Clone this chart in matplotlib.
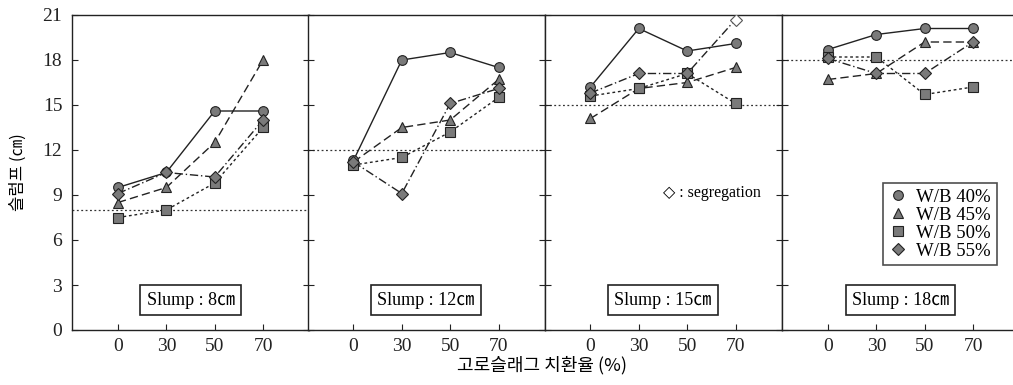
import numpy as np
import matplotlib.pyplot as plt

plt.rcParams['font.family'] = ['Liberation Serif', 'DejaVu Sans', 'Noto Sans CJK KR']

# 데이터 (슬래그 치환율별 슬럼프, 패널 = 목표 슬럼프)
slag = ['0', '30', '50', '70']
targets = [8, 12, 15, 18]
panel_labels = ['Slump : 8㎝', 'Slump : 12㎝', 'Slump : 15㎝', 'Slump : 18㎝']

wb40 = [[9.5, 10.5, 14.6, 14.6], [11.3, 18.0, 18.5, 17.5],
        [16.2, 20.1, 18.6, 19.1], [18.7, 19.7, 20.1, 20.1]]
wb45 = [[8.5, 9.5, 12.5, 18.0], [11.2, 13.5, 14.0, 16.7],
        [14.1, 16.1, 16.5, 17.5], [16.7, 17.1, 19.2, 19.2]]
wb50 = [[7.5, 8.0, 9.8, 13.5], [11.0, 11.5, 13.2, 15.5],
        [15.6, 16.1, 17.1, 15.1], [18.2, 18.2, 15.7, 16.2]]
wb55 = [[9.1, 10.5, 10.2, 14.0], [11.2, 9.1, 15.1, 16.1],
        [15.8, 17.1, 17.1, 20.7], [18.1, 17.1, 17.1, 19.2]]
# 재료분리 발생 (패널 3, W/B 55%, 70%)
segregated = [(2, 3)]

series = [('W/B 40%', wb40, 'o', '-'),
          ('W/B 45%', wb45, '^', (0, (6, 3))),
          ('W/B 50%', wb50, 's', (0, (2, 2))),
          ('W/B 55%', wb55, 'D', (0, (6, 2, 1, 2)))]

fig = plt.figure(figsize=(10.13, 3.85), dpi=100)
W, H = 1013, 385
lefts = [72, 307.5, 544.5, 782]
pw = 237
x = np.arange(len(slag))

for i in range(4):
    ax = fig.add_axes([lefts[i] / W, 1 - 330 / H, pw / W, 315 / H])
    ax.axhline(targets[i], color='#333333', lw=0.9, ls=(0, (1.5, 2)), zorder=1)
    for name, data, mk, ls in series:
        y = np.array(data[i], dtype=float)
        ax.plot(x, y, color='#222222', lw=1.0, ls=ls, zorder=2)
        for j in range(len(x)):
            seg = (i, j) in segregated and mk == 'D'
            ax.plot(x[j], y[j], marker=mk, ls='none',
                    ms=7 if mk != 'D' else 6,
                    mfc='white' if seg else '#7a7a7a',
                    mec='#555555' if seg else '#222222', mew=0.8, zorder=3)
    ax.set_xlim(-0.95, 3.95)
    ax.set_ylim(0, 21)
    ax.set_yticks(range(0, 22, 3))
    ax.set_xticks(x)
    ax.set_xticklabels(slag, fontsize=13.5)
    ax.tick_params(direction='in', length=4, width=0.8, left=True, right=True, top=False,
                   labelsize=14, colors='#222222')
    ax.tick_params(axis='y', pad=7)
    ax.tick_params(axis='x', pad=6)
    if i > 0:
        ax.tick_params(labelleft=False)
    for s in ax.spines.values():
        s.set_linewidth(1.0)
        s.set_color('#222222')
    ax.text(0.5, 0.095, panel_labels[i], transform=ax.transAxes, ha='center', va='center',
            fontsize=13,
            bbox=dict(boxstyle='square,pad=0.35', fc='white', ec='#222222', lw=1.2))
    if i == 2:
        ax.text(0.5, 9.1, '◇ : segregation', transform=ax.get_yaxis_transform(),
                ha='left', va='center', fontsize=11.5)
    if i == 3:
        handles = [plt.Line2D([], [], marker=mk, ls='none', ms=7 if mk != 'D' else 6,
                              mfc='#7a7a7a', mec='#222222', mew=0.8)
                   for _, _, mk, _ in series]
        leg = ax.legend(handles, [s[0] for s in series], loc='upper left',
                        bbox_to_anchor=(0.425, 0.467), fontsize=13.5, frameon=True,
                        fancybox=False, handlelength=1.0, handletextpad=0.5,
                        labelspacing=0.05, borderpad=0.3, borderaxespad=0)
        leg.get_frame().set_edgecolor('#222222')
        leg.get_frame().set_linewidth(1.2)

fig.text(18 / W, 1 - 172 / H, '슬럼프 (㎝)', rotation=90, ha='center', va='center',
         fontsize=12, family=['Noto Sans CJK KR'])
fig.text(542 / W, 1 - 365 / H, '고로슬래그 치환율 (%)', ha='center', va='center',
         fontsize=13, family=['Noto Sans CJK KR'])

fig.savefig('out.png', dpi=100)
